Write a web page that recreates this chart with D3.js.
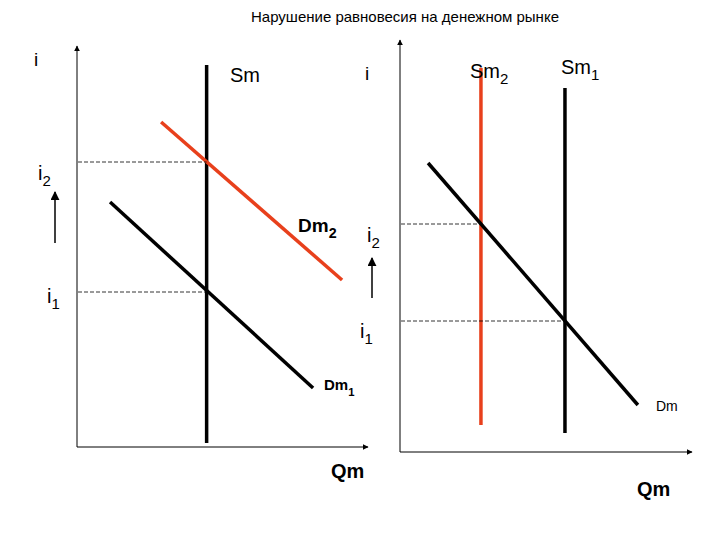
<!DOCTYPE html>
<html><head><meta charset="utf-8">
<script src="https://cdn.jsdelivr.net/npm/d3@7"></script>
<style>body{margin:0;background:#fff}text{font-family:Arial,"Liberation Sans",sans-serif}</style>
</head><body><svg id="c" width="720" height="540"></svg>
<script>
// Data in model units (Q horizontal, i vertical), per panel
const title = "Нарушение равновесия на денежном рынке";
const leftSupply = [{q: 44.7, i0: 1, i1: 95.5}];
const leftDm1 = [[11.4, 61.25], [81.4, 14.75]];
const leftDm2 = [[29, 81.25], [91.4, 41.75]];
const leftRates = [{name: "i2", i: 71.25}, {name: "i1", i: 38.75}];
const rightSm2 = [{q: 34.3, i0: 6.75, i1: 96}];
const rightSm1 = [{q: 69.9, i0: 4.75, i1: 91}];
const rightDm = [[11.9, 72.25], [100.8, 11.75]];
const rightRates = [{name: "i2", i: 57}, {name: "i1", i: 32.75}];

const svg = d3.select("#c");
svg.append("defs").append("marker").attr("id","ar").attr("viewBox","0 0 10 10").attr("refX",9).attr("refY",5)
  .attr("markerWidth",6).attr("markerHeight",6).attr("orient","auto")
  .append("path").attr("d","M0,0L10,5L0,10z").attr("fill","#000");

function panel(x0, x1, yBottom, yTop){
  return {x: d3.scaleLinear().domain([0,100]).range([x0,x1]),
          y: d3.scaleLinear().domain([0,100]).range([yBottom,yTop])};
}
const L = panel(77, 367, 447, 47);
const R = panel(400, 636, 452, 52);

function axes(P, yTopPx, xRightPx){
  svg.append("line").attr("x1",P.x(0)).attr("y1",P.y(0)).attr("x2",P.x(0)).attr("y2",yTopPx)
    .attr("stroke","#000").attr("stroke-width",1).attr("marker-end","url(#ar)");
  svg.append("line").attr("x1",P.x(0)).attr("y1",P.y(0)).attr("x2",xRightPx).attr("y2",P.y(0))
    .attr("stroke","#000").attr("stroke-width",1).attr("marker-end","url(#ar)");
}
axes(L, 46, 368);
axes(R, 40, 692);

function vline(P, d, color){
  svg.append("line").attr("x1",P.x(d.q)).attr("x2",P.x(d.q)).attr("y1",P.y(d.i0)).attr("y2",P.y(d.i1))
   .attr("stroke",color).attr("stroke-width",3.5);
}
function sline(P, pts, color){
  svg.append("path").attr("d", d3.line().x(p=>P.x(p[0])).y(p=>P.y(p[1]))(pts))
   .attr("stroke",color).attr("stroke-width",3.5).attr("fill","none");
}
function dash(P, i, qEnd){
  svg.append("line").attr("x1",P.x(0)+1).attr("x2",P.x(qEnd)).attr("y1",P.y(i)).attr("y2",P.y(i))
   .attr("stroke","#000").attr("stroke-width",0.8).attr("stroke-dasharray","4,2");
}
leftSupply.forEach(d=>vline(L,d,"#000"));
sline(L,leftDm1,"#000");
sline(L,leftDm2,"#e8401c");
leftRates.forEach(r=>dash(L,r.i,leftSupply[0].q));
rightSm2.forEach(d=>vline(R,d,"#e8401c"));
rightSm1.forEach(d=>vline(R,d,"#000"));
sline(R,rightDm,"#000");
dash(R,rightRates[0].i,rightSm2[0].q);
dash(R,rightRates[1].i,rightSm1[0].q);

function arrow(x,y1,y2){
  svg.append("line").attr("x1",x).attr("x2",x).attr("y1",y1).attr("y2",y2).attr("stroke","#000")
    .attr("stroke-width",1.5).attr("marker-end","url(#ar)");
}
arrow(55,243,192);
arrow(372,298,258);

function label(x,y,t,sub,size,bold){
  const tx = svg.append("text").attr("x",x).attr("y",y).attr("font-size",size||20).attr("fill","#000")
    .attr("font-weight",bold?"bold":"normal");
  tx.append("tspan").text(t);
  if(sub) tx.append("tspan").attr("dy",6).attr("font-size",(size||20)*0.75).text(sub);
}
svg.append("text").attr("x",405).attr("y",22).attr("text-anchor","middle").attr("font-size",15).text(title);
label(34,66,"i",null,19);
label(230,82,"Sm",null,20);
label(38,180,"i","2",20);
label(47,303,"i","1",20);
label(298,232,"Dm","2",19,true);
label(367,242,"i","2",20);
label(360,338,"i","1",20);
label(324,390,"Dm","1",15,true);
label(331,478,"Qm",null,20,true);
label(365,80,"i",null,19);
label(470,78,"Sm","2",20);
label(561,74,"Sm","1",20);
label(656,411,"Dm",null,14);
label(637,496,"Qm",null,20,true);
</script></body></html>
